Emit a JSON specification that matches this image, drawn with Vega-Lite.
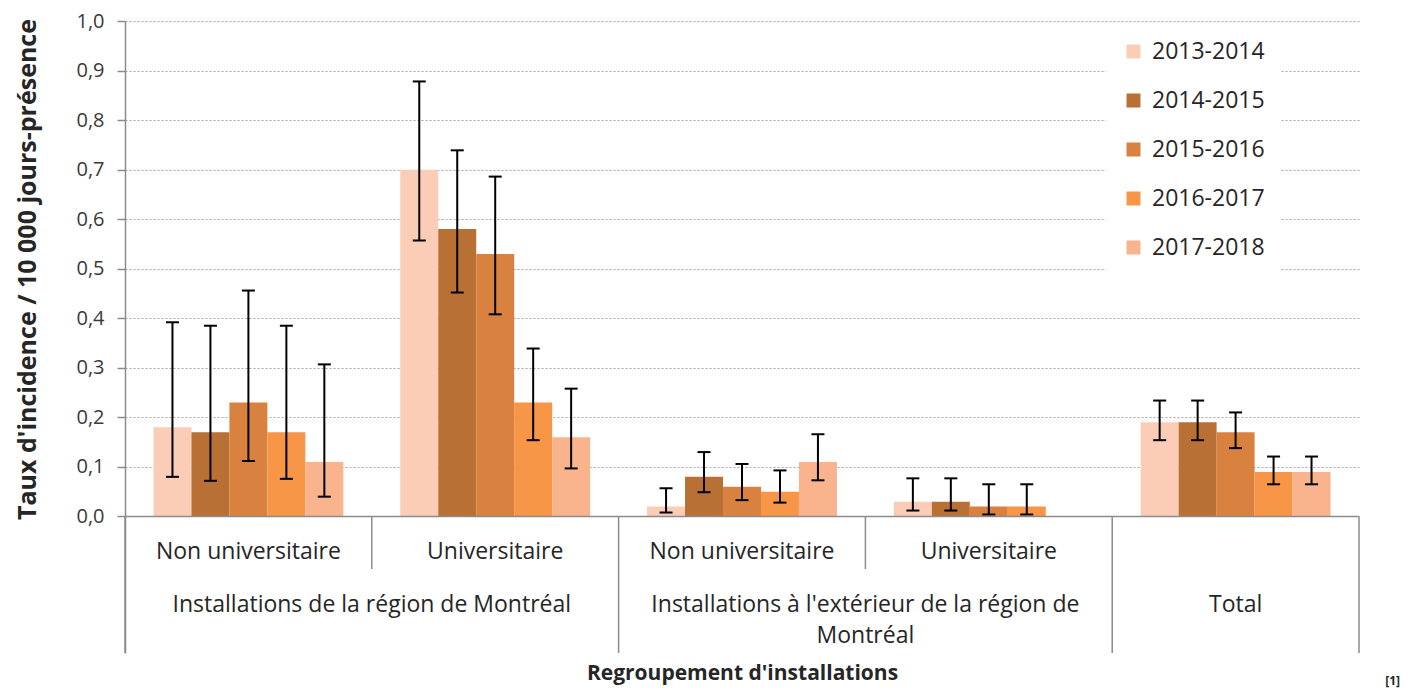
{
  "$schema": "https://vega.github.io/schema/vega-lite/v6.json",
  "width": 1234,
  "height": 632,
  "autosize": {"type": "none"},
  "padding": {"left": 125, "top": 21, "right": 63, "bottom": 35},
  "config": {
    "font": "Open Sans",
    "view": {"stroke": null},
    "text": {"font": "Open Sans", "color": "#262626"}
  },
  "datasets": {
    "bars": [
      {"cat": "MTL-NU", "annee": "2013-2014", "taux": 0.18, "bas": 0.08, "haut": 0.392},
      {"cat": "MTL-NU", "annee": "2014-2015", "taux": 0.17, "bas": 0.072, "haut": 0.385},
      {"cat": "MTL-NU", "annee": "2015-2016", "taux": 0.23, "bas": 0.112, "haut": 0.456},
      {"cat": "MTL-NU", "annee": "2016-2017", "taux": 0.17, "bas": 0.076, "haut": 0.385},
      {"cat": "MTL-NU", "annee": "2017-2018", "taux": 0.11, "bas": 0.04, "haut": 0.307},
      {"cat": "MTL-U", "annee": "2013-2014", "taux": 0.70, "bas": 0.557, "haut": 0.878},
      {"cat": "MTL-U", "annee": "2014-2015", "taux": 0.58, "bas": 0.452, "haut": 0.739},
      {"cat": "MTL-U", "annee": "2015-2016", "taux": 0.53, "bas": 0.408, "haut": 0.686},
      {"cat": "MTL-U", "annee": "2016-2017", "taux": 0.23, "bas": 0.154, "haut": 0.339},
      {"cat": "MTL-U", "annee": "2017-2018", "taux": 0.16, "bas": 0.097, "haut": 0.258},
      {"cat": "EXT-NU", "annee": "2013-2014", "taux": 0.02, "bas": 0.008, "haut": 0.057},
      {"cat": "EXT-NU", "annee": "2014-2015", "taux": 0.08, "bas": 0.049, "haut": 0.13},
      {"cat": "EXT-NU", "annee": "2015-2016", "taux": 0.06, "bas": 0.033, "haut": 0.106},
      {"cat": "EXT-NU", "annee": "2016-2017", "taux": 0.05, "bas": 0.028, "haut": 0.093},
      {"cat": "EXT-NU", "annee": "2017-2018", "taux": 0.11, "bas": 0.073, "haut": 0.166},
      {"cat": "EXT-U", "annee": "2013-2014", "taux": 0.03, "bas": 0.012, "haut": 0.077},
      {"cat": "EXT-U", "annee": "2014-2015", "taux": 0.03, "bas": 0.012, "haut": 0.077},
      {"cat": "EXT-U", "annee": "2015-2016", "taux": 0.02, "bas": 0.004, "haut": 0.065},
      {"cat": "EXT-U", "annee": "2016-2017", "taux": 0.02, "bas": 0.004, "haut": 0.065},
      {"cat": "TOTAL", "annee": "2013-2014", "taux": 0.19, "bas": 0.154, "haut": 0.234},
      {"cat": "TOTAL", "annee": "2014-2015", "taux": 0.19, "bas": 0.154, "haut": 0.234},
      {"cat": "TOTAL", "annee": "2015-2016", "taux": 0.17, "bas": 0.138, "haut": 0.21},
      {"cat": "TOTAL", "annee": "2016-2017", "taux": 0.09, "bas": 0.065, "haut": 0.121},
      {"cat": "TOTAL", "annee": "2017-2018", "taux": 0.09, "bas": 0.065, "haut": 0.121}
    ],
    "sous": [
      {"cat": "MTL-NU", "label": "Non universitaire", "premier": "oui"},
      {"cat": "MTL-U", "label": "Universitaire", "premier": "non"},
      {"cat": "EXT-NU", "label": "Non universitaire", "premier": "oui"},
      {"cat": "EXT-U", "label": "Universitaire", "premier": "non"}
    ],
    "groupes": [
      {"milieu": "MTL-U", "label": "Installations de la région de Montréal"},
      {"milieu": "EXT-U", "label": "Installations à l'extérieur de la région de\nMontréal"}
    ]
  },
  "data": {"name": "bars"},
  "layer": [
    {
      "mark": {"type": "bar", "opacity": 1},
      "encoding": {
        "x": {
          "field": "cat", "type": "nominal",
          "scale": {"domain": ["MTL-NU", "MTL-U", "EXT-NU", "EXT-U", "TOTAL"], "paddingInner": 0, "paddingOuter": 0},
          "axis": {
            "labels": false, "ticks": false, "domain": false, "grid": false,
            "title": "Regroupement d'installations",
            "titleFont": "Open Sans", "titleFontWeight": "bold", "titleFontSize": 21, "titleColor": "#262626",
            "titleBaseline": "alphabetic", "titleY": 26
          }
        },
        "xOffset": {
          "field": "annee", "type": "nominal",
          "scale": {"domain": ["2013-2014", "2014-2015", "2015-2016", "2016-2017", "2017-2018"], "paddingInner": 0, "paddingOuter": 0.75}
        },
        "y": {
          "field": "taux", "type": "quantitative",
          "scale": {"domain": [-0.2755, 1], "nice": false, "zero": false},
          "axis": {
            "values": [0, 0.1, 0.2, 0.3, 0.4, 0.5, 0.6, 0.7, 0.8, 0.9, 1.0],
            "labelExpr": "replace(format(datum.value, '.1f'), '.', ',')",
            "labelFont": "Open Sans", "labelFontSize": 20, "labelColor": "#3a3a3a", "labelPadding": 13,
            "tickColor": "#8c8c8c", "tickSize": 8, "tickWidth": 1.5,
            "domainColor": "#8c8c8c", "domainWidth": 1.5,
            "grid": true, "gridColor": "#a6a6a6", "gridDash": [2, 2], "gridWidth": 1,
            "title": "Taux d'incidence / 10 000 jours-présence",
            "titleFont": "Open Sans", "titleFontWeight": "bold", "titleFontSize": 25, "titleColor": "#262626",
            "titleX": -98, "titleY": 248, "titleBaseline": "middle", "titleAlign": "center", "titleAngle": -90
          }
        },
        "color": {
          "field": "annee", "type": "nominal",
          "scale": {
            "domain": ["2013-2014", "2014-2015", "2015-2016", "2016-2017", "2017-2018"],
            "range": ["#FBCDB6", "#B97034", "#D9823F", "#F79646", "#F9B48E"]
          },
          "legend": {
            "orient": "none", "legendX": 981, "legendY": 3, "title": null,
            "fillColor": "white", "padding": 16, "rowPadding": 25,
            "symbolType": "square", "symbolSize": 196, "symbolStrokeWidth": 0, "symbolOpacity": 1,
            "labelFont": "Open Sans", "labelFontSize": 23, "labelColor": "#262626", "labelOffset": 7
          }
        }
      }
    },
    {
      "mark": {"type": "rule", "color": "#000000", "strokeWidth": 2},
      "encoding": {
        "x": {"field": "cat", "type": "nominal"},
        "xOffset": {"field": "annee", "type": "nominal"},
        "y": {"field": "bas", "type": "quantitative"},
        "y2": {"field": "haut"}
      }
    },
    {
      "mark": {"type": "tick", "color": "#000000", "size": 13, "thickness": 2, "orient": "horizontal", "opacity": 1},
      "encoding": {
        "x": {"field": "cat", "type": "nominal"},
        "xOffset": {"field": "annee", "type": "nominal"},
        "y": {"field": "bas", "type": "quantitative"}
      }
    },
    {
      "mark": {"type": "tick", "color": "#000000", "size": 13, "thickness": 2, "orient": "horizontal", "opacity": 1},
      "encoding": {
        "x": {"field": "cat", "type": "nominal"},
        "xOffset": {"field": "annee", "type": "nominal"},
        "y": {"field": "haut", "type": "quantitative"}
      }
    },
    {
      "data": {"values": [{"ligne": "zero"}]},
      "mark": {"type": "rule", "color": "#8c8c8c", "strokeWidth": 1.5},
      "encoding": {"y": {"datum": 0, "type": "quantitative"}}
    },
    {
      "data": {"name": "sous"},
      "transform": [{"filter": "datum.premier == 'non'"}],
      "mark": {"type": "rule", "color": "#8c8c8c", "strokeWidth": 1.5},
      "encoding": {
        "x": {"field": "cat", "type": "nominal", "bandPosition": 0},
        "y": {"datum": 0, "type": "quantitative"},
        "y2": {"datum": -0.106}
      }
    },
    {
      "data": {"name": "sous"},
      "transform": [{"filter": "datum.premier == 'oui'"}],
      "mark": {"type": "rule", "color": "#8c8c8c", "strokeWidth": 1.5},
      "encoding": {
        "x": {"field": "cat", "type": "nominal", "bandPosition": 0},
        "y": {"datum": 0, "type": "quantitative"},
        "y2": {"datum": -0.2755}
      }
    },
    {
      "data": {"values": [{"bord": "TOTAL"}]},
      "mark": {"type": "rule", "color": "#8c8c8c", "strokeWidth": 1.5},
      "encoding": {
        "x": {"field": "bord", "type": "nominal", "bandPosition": 0},
        "y": {"datum": 0, "type": "quantitative"},
        "y2": {"datum": -0.2755}
      }
    },
    {
      "data": {"values": [{"bord": "TOTAL"}]},
      "mark": {"type": "rule", "color": "#8c8c8c", "strokeWidth": 1.5},
      "encoding": {
        "x": {"field": "bord", "type": "nominal", "bandPosition": 1},
        "y": {"datum": 0, "type": "quantitative"},
        "y2": {"datum": -0.2755}
      }
    },
    {
      "data": {"name": "sous"},
      "mark": {"type": "text", "align": "center", "baseline": "alphabetic", "fontSize": 23, "font": "Open Sans", "color": "#262626"},
      "encoding": {
        "x": {"field": "cat", "type": "nominal"},
        "y": {"datum": -0.0864, "type": "quantitative"},
        "text": {"field": "label"}
      }
    },
    {
      "data": {"name": "groupes"},
      "mark": {"type": "text", "align": "center", "baseline": "alphabetic", "fontSize": 23, "font": "Open Sans", "color": "#262626", "lineBreak": "\n", "lineHeight": 31.5},
      "encoding": {
        "x": {"field": "milieu", "type": "nominal", "bandPosition": 0},
        "y": {"datum": -0.1921, "type": "quantitative"},
        "text": {"field": "label"}
      }
    },
    {
      "data": {"values": [{"cat": "TOTAL", "label": "Total"}]},
      "mark": {"type": "text", "align": "center", "baseline": "alphabetic", "fontSize": 23, "font": "Open Sans", "color": "#262626"},
      "encoding": {
        "x": {"field": "cat", "type": "nominal"},
        "y": {"datum": -0.1921, "type": "quantitative"},
        "text": {"field": "label"}
      }
    },
    {
      "data": {"values": [{"cat": "TOTAL", "label": "[1]"}]},
      "mark": {"type": "text", "align": "center", "baseline": "alphabetic", "fontSize": 12, "font": "Open Sans", "fontWeight": "bold", "color": "#262626"},
      "encoding": {
        "x": {"field": "cat", "type": "nominal", "bandPosition": 1.136},
        "y": {"datum": -0.34, "type": "quantitative"},
        "text": {"field": "label"}
      }
    }
  ]
}
